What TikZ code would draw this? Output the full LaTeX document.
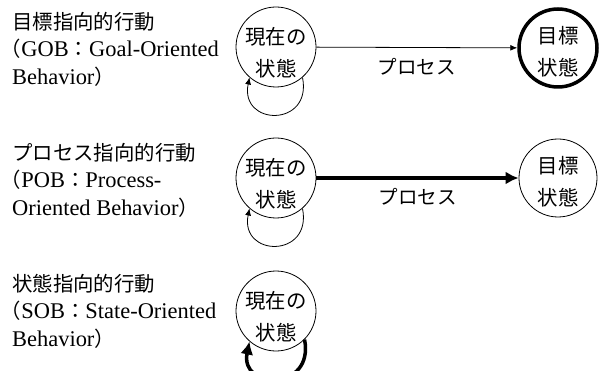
\documentclass[tikz,border=0pt]{standalone}
\usepackage{fontspec}
\setmainfont{Liberation Serif}[Scale=1.1]
\newfontfamily\jp{Noto Sans CJK JP}
\usetikzlibrary{arrows.meta}
\tikzset{
  cur/.style={circle,draw,line width=0.8pt,minimum size=80pt,inner sep=0pt,font=\jp\fontsize{20.4}{32}\selectfont},
  goal/.style={cur,minimum size=78pt},
  thickgoal/.style={goal,line width=3.5pt},
  desc/.style={anchor=north west,inner sep=0pt,align=left,font=\fontsize{20.4}{27.5}\selectfont},
  thinarrow/.style={line width=0.8pt,-{Latex[length=7pt,width=6pt]}},
  thickarrow/.style={line width=3.5pt,-{Latex[length=13pt,width=13pt]}},
  lbl/.style={font=\jp\fontsize{19.5}{22}\selectfont,inner sep=0pt}
}
\newcommand\twolines[3]{\raisebox{#1}[0pt][0pt]{\begin{tabular}{@{}c@{}}#2\\#3\end{tabular}}}
\begin{document}
\begin{tikzpicture}[x=1pt,y=-1pt]
\useasboundingbox (0,0) rectangle (599,371);
\fill[white] (0,0) rectangle (599,371);
\clip (0,0) rectangle (599,371);
% row 1
\node[desc] (t1) at (12,12) {{\jp 目標指向的行動}\\\kern-.5em{\jp （}GOB{\jp ：}Goal-Oriented\\Behavior{\jp ）}};
\node[cur] (c1) at (276,47) {\twolines{-12pt}{現在の}{状態}};
\node[thickgoal] (g1) at (558,48) {\twolines{-10pt}{目標}{状態}};
\draw[thinarrow] (c1) -- node[lbl,yshift=-19pt] (p1) {プロセス} (g1);
\draw[thinarrow] (c1.-49) .. controls +(10,50) and +(-10,49) .. (c1.-131);
% row 2
\node[desc] (t2) at (12,143) {{\jp プロセス指向的行動}\\\kern-.5em{\jp （}POB{\jp ：}Process-\\Oriented Behavior{\jp ）}};
\node[cur] (c2) at (276,178) {\twolines{-12pt}{現在の}{状態}};
\node[goal] (g2) at (558,178) {\twolines{-10pt}{目標}{状態}};
\draw[thickarrow] (c2) -- node[lbl,yshift=-19pt] (p2) {プロセス} (g2);
\draw[thinarrow] (c2.-49) .. controls +(10,50) and +(-10,49) .. (c2.-131);
% row 3
\node[desc] (t3) at (12,274) {{\jp 状態指向的行動}\\\kern-.5em{\jp （}SOB{\jp ：}State-Oriented\\Behavior{\jp ）}};
\node[cur] (c3) at (276,311) {\twolines{-12pt}{現在の}{状態}};
\draw[thickarrow] (c3.-45) .. controls +(10,52) and +(-10,49) .. (c3.-131);
\end{tikzpicture}
\end{document}
